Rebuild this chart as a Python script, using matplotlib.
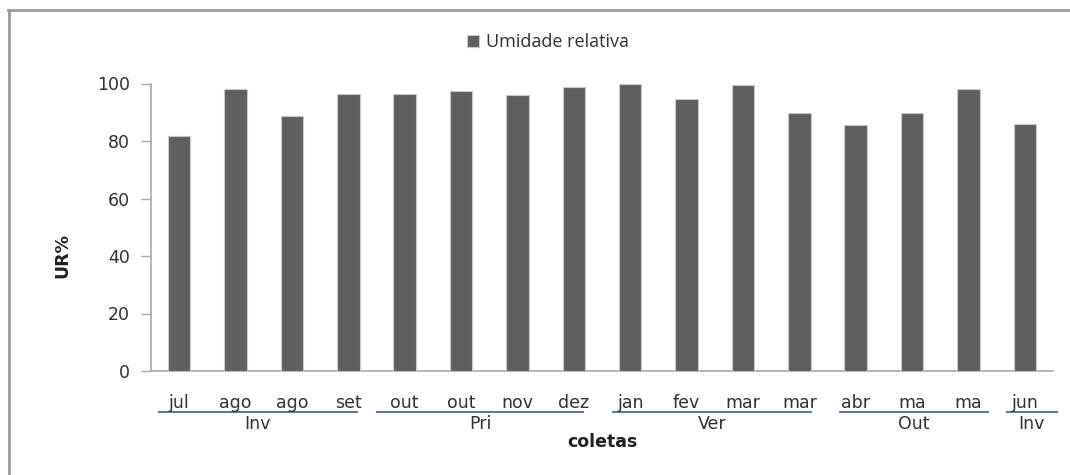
import matplotlib
matplotlib.use("Agg")
import matplotlib.pyplot as plt
from matplotlib.lines import Line2D
import numpy as np

months = ["jul", "ago", "ago", "set", "out", "out", "nov", "dez",
          "jan", "fev", "mar", "mar", "abr", "ma", "ma", "jun"]
ur_values = [81.6, 98.2, 88.6, 96.5, 96.2, 97.3, 95.9, 98.7,
             99.9, 94.7, 99.4, 89.6, 85.5, 89.6, 98.2, 85.9]
seasons = ["Inv", "Pri", "Ver", "Out", "Inv"]
season_start = [0, 4, 8, 12, 15]
season_end = [3, 7, 11, 14, 15]
yticks = [0, 20, 40, 60, 80, 100]
series_name = "Umidade relativa"

W, H = 1070, 475
fig = plt.figure(figsize=(W / 100, H / 100), dpi=100)
ax = fig.add_axes([151 / W, (H - 371) / H, (1053 - 151) / W, (371 - 83.5) / H])

x = np.arange(len(months))
bars = ax.bar(x, ur_values, width=0.4, color="#5f5f5f", edgecolor="#c8c8c8",
              linewidth=0.8, label=series_name, zorder=3)

ax.set_xlim(-0.5, len(months) - 0.5)
ax.set_ylim(0, 100)
ax.set_yticks(yticks)
ax.set_yticklabels([str(v) for v in yticks], fontsize=12.5, color="#303030",
                   family="DejaVu Sans")
ax.tick_params(axis="y", length=7, color="#a8a8a8", width=1, pad=8)
ax.set_xticks([])
for s in ["top", "right"]:
    ax.spines[s].set_visible(False)
for s in ["left", "bottom"]:
    ax.spines[s].set_color("#a8a8a8")
    ax.spines[s].set_linewidth(1.2)

tr = ax.get_xaxis_transform()


def ax_y(ypx):
    # convert pixel row (from top of figure) to axes fraction
    return (371 - ypx) / (371 - 83.5)


for i, m in enumerate(months):
    ax.text(x[i], ax_y(403), m, transform=tr, ha="center", va="center",
            fontsize=12.5, color="#303030", family="DejaVu Sans", clip_on=False)

# underline extents relative to first/last category of each group
left_pad = [0.36, 0.49, 0.31, 0.28, 0.32]
right_pad = [0.15, 0.16, 0.21, 0.35, 0.57]
for name, s0, s1, lp, rp in zip(seasons, season_start, season_end, left_pad, right_pad):
    left = s0 - lp
    right = s1 + rp
    ax.add_line(Line2D([left, right], [ax_y(412), ax_y(412)], transform=tr,
                       color="#4a6aa0", linewidth=1.3, clip_on=False))
    ax.text((left + right) / 2, ax_y(424), name, transform=tr, ha="center",
            va="center", fontsize=12.5, color="#303030", family="DejaVu Sans",
            clip_on=False)

ax.text(0.5, ax_y(442), "coletas", transform=ax.transAxes, ha="center",
        va="center", fontsize=12.5, fontweight="bold", color="#202020",
        family="DejaVu Sans")
fig.text(62 / W, 1 - 256 / H, "UR%", rotation=90, ha="center", va="center",
         fontsize=12.5, fontweight="bold", color="#202020", family="DejaVu Sans")

leg = fig.legend(handles=[bars], labels=[series_name], loc="center",
                 bbox_to_anchor=(548 / W, 1 - 42 / H), frameon=False,
                 handlelength=0.65, handleheight=0.65, handletextpad=0.4,
                 prop={"family": "Open Sans", "size": 13})
for t in leg.get_texts():
    t.set_color("#303030")

# outer frame (top and left edges)
fig.add_artist(Line2D([8 / W, 1.0], [1 - 9.5 / H, 1 - 9.5 / H],
                      transform=fig.transFigure, color="#9a9a9a", linewidth=2))
fig.add_artist(Line2D([8.5 / W, 8.5 / W], [0, 1 - 9.5 / H],
                      transform=fig.transFigure, color="#9a9a9a", linewidth=2))

fig.savefig("out.png", dpi=100, facecolor="white")
